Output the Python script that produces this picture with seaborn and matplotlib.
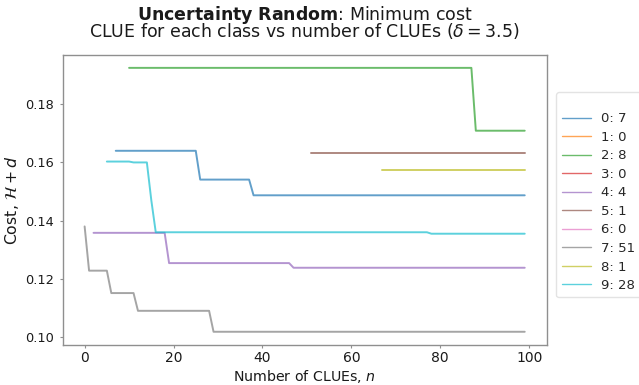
import numpy as np
import pandas as pd
import matplotlib
matplotlib.use("Agg")
import matplotlib.pyplot as plt
import seaborn as sns

# ---- data ----
classes = list(range(10))
counts = [7, 0, 8, 0, 4, 1, 0, 51, 1, 28]

n_0 = [7, 25, 26, 37, 38, 99]
cost_0 = [0.1640, 0.1640, 0.1541, 0.1541, 0.1487, 0.1487]
n_1, cost_1 = [], []
n_2 = [10, 87, 88, 99]
cost_2 = [0.1925, 0.1925, 0.1709, 0.1709]
n_3, cost_3 = [], []
n_4 = [2, 18, 19, 46, 47, 99]
cost_4 = [0.1358, 0.1358, 0.1254, 0.1254, 0.1238, 0.1238]
n_5 = [51, 99]
cost_5 = [0.1631, 0.1631]
n_6, cost_6 = [], []
n_7 = [0, 1, 5, 6, 11, 12, 28, 29, 99]
cost_7 = [0.1380, 0.1228, 0.1228, 0.1151, 0.1151, 0.1090, 0.1090, 0.1018, 0.1018]
n_8 = [67, 99]
cost_8 = [0.1573, 0.1573]
n_9 = [5, 10, 11, 14, 15, 16, 77, 78, 99]
cost_9 = [0.1603, 0.1603, 0.1600, 0.1600, 0.1470, 0.1360, 0.1360, 0.1355, 0.1355]

title_bold = "Uncertainty Random"
title_rest = ": Minimum cost"
title_line2 = r"CLUE for each class vs number of CLUEs ($\delta = 3.5$)"
x_label = "Number of CLUEs, $n$"
y_label = r"Cost, $\mathcal{H} + d$"
x_ticks = [0, 20, 40, 60, 80, 100]
y_ticks = [0.10, 0.12, 0.14, 0.16, 0.18]

all_n = [n_0, n_1, n_2, n_3, n_4, n_5, n_6, n_7, n_8, n_9]
all_cost = [cost_0, cost_1, cost_2, cost_3, cost_4, cost_5, cost_6, cost_7, cost_8, cost_9]
labels = [f"{c}: {k}" for c, k in zip(classes, counts)]

rows = []
for lab, ns, cs in zip(labels, all_n, all_cost):
    for a, b in zip(ns, cs):
        rows.append({"n": a, "cost": b, "cls": lab})
df = pd.DataFrame(rows)

# ---- style ----
sns.set_style("white")
grey = "#8f8f8f"
txt = "#1a1a1a"
plt.rcParams.update({
    "font.family": ["DejaVu Sans"],
    "axes.edgecolor": grey,
    "axes.linewidth": 1.0,
    "xtick.bottom": True,
    "ytick.left": True,
    "xtick.color": grey,
    "ytick.color": grey,
    "xtick.labelcolor": txt,
    "ytick.labelcolor": txt,
    "xtick.major.size": 2.2,
    "ytick.major.size": 2.2,
    "xtick.major.pad": 2.4,
    "ytick.major.pad": 3.8,
    "xtick.labelsize": 10,
    "ytick.labelsize": 9.3,
    "mathtext.fontset": "dejavusans",
})

palette = sns.color_palette("tab10", 10)

fig = plt.figure(figsize=(6.39, 3.85), dpi=100)
ax = fig.add_axes([0.098, 0.104, 0.7576, 0.754])

sns.lineplot(data=df, x="n", y="cost", hue="cls", hue_order=labels,
             palette=palette, estimator=None, sort=False, alpha=0.7,
             linewidth=1.4, ax=ax)

ax.set_xticks(x_ticks)
ax.set_yticks(y_ticks)
ax.set_xlabel(x_label, fontsize=10.2, color=txt, labelpad=1.6)
ax.set_ylabel(y_label, fontsize=11.3, color=txt, labelpad=3.4)

cx = (0.098 + 0.7576 / 2)
title_text = (r"$\bf{" + title_bold.replace(" ", r"\ ") + "}$" + title_rest
              + "\n" + title_line2)
fig.text(cx, 1 - 36.7 / 385, title_text, ha="center", va="baseline",
         multialignment="center", linespacing=0.67, fontsize=12.5, color=txt)

handles, labs = ax.get_legend_handles_labels()
leg = ax.legend(handles, labs, loc="center left", bbox_to_anchor=(1.02, 0.517),
                fontsize=9.5, frameon=True, handlelength=2.2, borderaxespad=0,
                labelspacing=0.42, title=" ", title_fontsize=5.5)
leg.get_frame().set_edgecolor("#dddddd")
for h in leg.legend_handles:
    h.set_alpha(0.7)
    h.set_linewidth(1.0)

fig.savefig("out.png", dpi=100)
